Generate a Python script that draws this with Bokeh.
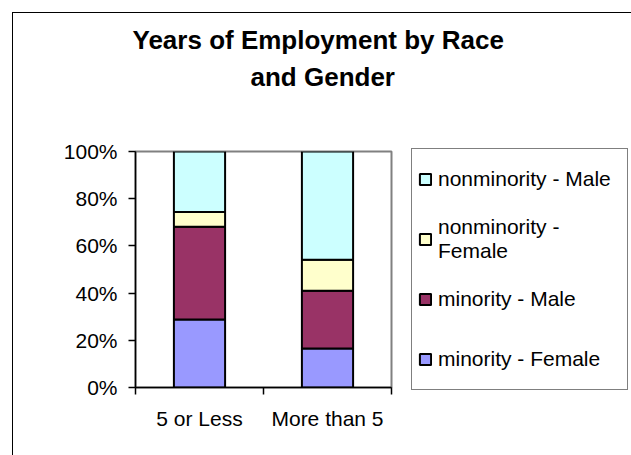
from bokeh.plotting import figure
from bokeh.models import Legend, LegendItem, FixedTicker, NumeralTickFormatter, Range1d, Title
from bokeh.embed import file_html
from bokeh.resources import INLINE

categories = ["5 or Less", "More than 5"]
series_names = ["minority - Female", "minority - Male", "nonminority - Female", "nonminority - Male"]
legend_labels = ["minority - Female", "minority - Male", "nonminority -\nFemale", "nonminority - Male"]
title_lines = ["Years of Employment by Race", "and Gender"]
minority_female = [0.288, 0.165]
minority_male = [0.393, 0.245]
nonminority_female = [0.063, 0.131]
nonminority_male = [0.256, 0.459]
colors = ["#9999FF", "#993366", "#FFFFCC", "#CCFFFF"]
y_ticks = [0, 0.2, 0.4, 0.6, 0.8, 1.0]

FONT = "Liberation Sans"

data = {
    "x": [i + 0.5 for i in range(len(categories))],
    series_names[0]: minority_female,
    series_names[1]: minority_male,
    series_names[2]: nonminority_female,
    series_names[3]: nonminority_male,
}

p = figure(frame_width=256, frame_height=236, output_backend="svg", toolbar_location=None,
           x_range=Range1d(0, len(categories)), y_range=Range1d(0, 1),
           min_border_left=122, min_border_right=0, min_border_top=138, min_border_bottom=68)
p.styles = {"margin-left": "12px", "margin-top": "12px",
            "border-left": "1px solid black", "border-top": "1px solid black"}

renderers = p.vbar_stack(series_names, x="x", width=0.4, source=data, color=colors,
                         line_color="black", line_width=2)

p.xgrid.visible = False
p.ygrid.visible = False
p.outline_line_color = "#808080"
p.outline_line_width = 2
p.background_fill_color = "white"

# y axis
p.yaxis.ticker = FixedTicker(ticks=y_ticks)
p.yaxis.formatter = NumeralTickFormatter(format="0%")
p.yaxis.axis_line_color = "black"
p.yaxis.axis_line_width = 1.5
p.yaxis.major_tick_in = 0
p.yaxis.major_tick_out = 7
p.yaxis.major_tick_line_width = 1.5
p.yaxis.minor_tick_line_color = None
p.yaxis.major_label_text_font = FONT
p.yaxis.major_label_text_font_size = "21px"
p.yaxis.major_label_text_color = "black"
p.yaxis.major_label_standoff = 11

# x axis
p.xaxis.ticker = FixedTicker(ticks=data["x"], minor_ticks=list(range(len(categories) + 1)))
p.xaxis.major_label_overrides = {x: c for x, c in zip(data["x"], categories)}
p.xaxis.major_tick_line_color = None
p.xaxis.minor_tick_in = 0
p.xaxis.minor_tick_out = 7
p.xaxis.minor_tick_line_width = 1.5
p.xaxis.minor_tick_line_color = "black"
p.xaxis.axis_line_color = "black"
p.xaxis.axis_line_width = 1.5
p.xaxis.major_label_text_font = FONT
p.xaxis.major_label_text_font_size = "21px"
p.xaxis.major_label_text_color = "black"
p.xaxis.major_label_standoff = 12

# title: two centred lines above an empty spacer
spacer = Title(text=" ", text_font_size="10px", standoff=47)
p.add_layout(spacer, "above")
t2 = Title(text=title_lines[1], align="left", text_font=FONT,
           text_font_size="26px", text_font_style="bold", text_color="black",
           offset=115, standoff=0)
p.add_layout(t2, "above")
t1 = Title(text=title_lines[0], align="left", text_font=FONT,
           text_font_size="26px", text_font_style="bold", text_color="black",
           offset=-3, standoff=10)
p.add_layout(t1, "above")

items = [LegendItem(label=legend_labels[i], renderers=[renderers[i]]) for i in reversed(range(4))]
legend = Legend(items=items, location="center_left", margin=20, border_line_color="black",
                border_line_width=1,
                label_text_font=FONT, label_text_font_size="21px", label_text_color="black",
                glyph_width=14, glyph_height=14, label_standoff=6, padding=6,
                spacing=12, label_height=48, label_width=183, background_fill_alpha=1)
p.add_layout(legend, "right")

open("out.html", "w").write(file_html(p, INLINE))
